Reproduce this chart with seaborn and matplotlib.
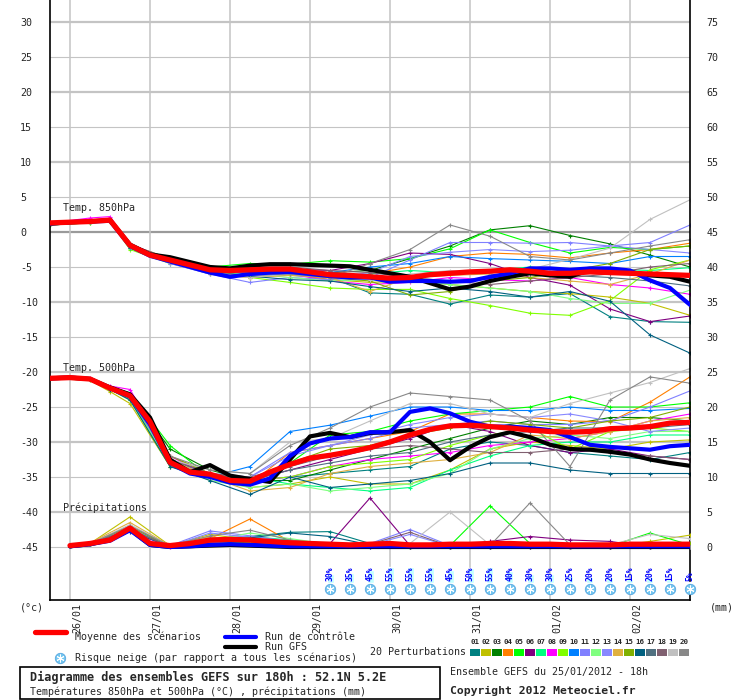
import matplotlib
matplotlib.use("Agg")
import matplotlib.pyplot as plt
from matplotlib.lines import Line2D
from matplotlib.patches import Rectangle
from matplotlib.transforms import ScaledTranslation
import pandas as pd
import seaborn as sns

sns.set_style("white")
plt.rcParams["font.family"] = ["DejaVu Sans Mono", "DejaVu Sans"]
plt.rcParams["font.size"] = 7.2

W, H = 740, 700

# ---------------------------------------------------------------- data
HOURS_6H = list(range(0, 193, 6))            # 25/01 18h -> +192h
MEMBER_HOURS = [0, 12, 18] + list(range(24, 193, 12))
PR_HOURS_6H = list(range(6, 193, 6))
PR_MEMBER_HOURS = [6] + list(range(12, 193, 12))

DAY_HOURS = [6, 30, 54, 78, 102, 126, 150, 174]
DAY_LABELS = ["26/01", "27/01", "28/01", "29/01", "30/01", "31/01", "01/02", "02/02"]

LEFT_TICKS = list(range(30, -46, -5))
RIGHT_TICKS = list(range(75, -1, -5))

MEMBER_COLORS = ["#008080", "#c0c000", "#008000", "#ff8000", "#00ff00",
                 "#800080", "#00ff80", "#ff00ff", "#80ff00", "#0080ff",
                 "#8080ff", "#80ff80", "#8888ff", "#e0b040", "#80b000",
                 "#006080", "#507080", "#806070", "#c0c0c0", "#888888"]

# 850 hPa temperature, one row per perturbation (MEMBER_HOURS)
T850_MEMBERS = [
    [1.2, 1.6, 1.7, -2.0, -4.2, -5.8, -6.0, -6.2, -6.5, -8.7, -8.9, -10.3, -9.0, -9.3, -8.8, -12.1, -12.8, -12.9],
    [1.3, 1.4, 1.6, -1.8, -3.8, -5.5, -5.5, -6.0, -6.8, -7.2, -7.0, -7.5, -8.0, -8.5, -8.8, -9.3, -10.2, -11.9],
    [1.1, 1.5, 1.6, -2.2, -4.0, -5.6, -5.2, -5.5, -5.8, -5.5, -3.8, -2.0, 0.3, 0.9, -0.5, -1.7, -3.3, -5.0],
    [1.2, 1.5, 1.7, -2.1, -4.3, -6.0, -6.5, -6.0, -6.8, -6.0, -5.0, -3.5, -3.0, -3.2, -3.7, -3.0, -2.5, -1.6],
    [1.0, 1.3, 1.5, -2.3, -3.8, -5.0, -4.5, -4.6, -4.1, -4.3, -3.8, -2.4, 0.3, -1.5, -3.0, -2.2, -2.5, -2.0],
    [1.2, 1.6, 1.8, -1.9, -4.0, -5.5, -5.0, -5.3, -5.5, -4.5, -3.0, -3.2, -4.5, -6.5, -7.6, -11.0, -12.8, -12.0],
    [1.1, 1.4, 1.6, -2.0, -4.0, -5.7, -5.8, -6.0, -6.3, -6.0, -5.5, -5.8, -5.5, -5.0, -5.5, -5.3, -5.5, -5.1],
    [1.3, 2.0, 2.2, -1.7, -4.0, -5.8, -5.8, -6.0, -7.0, -7.5, -7.2, -6.5, -6.8, -7.0, -6.5, -7.5, -8.0, -8.9],
    [1.0, 1.3, 1.5, -2.5, -4.5, -5.8, -6.5, -7.2, -8.0, -8.2, -8.2, -9.5, -10.5, -11.6, -11.9, -9.8, -5.4, -4.0],
    [1.2, 1.5, 1.7, -2.0, -4.0, -5.5, -5.8, -5.5, -5.8, -5.0, -4.5, -3.5, -3.8, -4.0, -4.2, -4.5, -3.5, -3.5],
    [1.3, 1.6, 1.8, -2.1, -4.5, -6.0, -7.2, -6.5, -6.8, -6.5, -4.0, -1.5, -1.5, -1.6, -1.5, -2.0, -1.5, 1.0],
    [1.1, 1.4, 1.6, -2.4, -4.2, -5.8, -6.0, -6.5, -7.0, -6.8, -7.0, -7.5, -8.0, -8.5, -9.5, -10.2, -10.2, -8.3],
    [1.2, 1.5, 1.7, -2.0, -4.3, -6.0, -6.2, -6.0, -6.5, -5.8, -3.5, -2.9, -2.5, -2.8, -2.6, -2.0, -2.5, -3.0],
    [1.2, 1.5, 1.6, -2.2, -4.0, -5.5, -6.5, -6.2, -6.5, -8.5, -6.5, -6.2, -6.0, -6.5, -7.0, -7.5, -6.0, -4.0],
    [1.1, 1.4, 1.6, -1.9, -4.0, -5.8, -5.5, -6.0, -6.5, -7.0, -9.0, -8.5, -7.0, -6.5, -5.5, -4.5, -2.5, -2.0],
    [1.2, 1.5, 1.7, -2.3, -4.2, -5.6, -6.3, -6.8, -7.0, -7.8, -8.5, -8.0, -8.5, -9.3, -8.5, -9.9, -14.7, -17.3],
    [1.2, 1.5, 1.7, -2.0, -4.0, -5.6, -5.5, -5.8, -6.2, -6.5, -6.8, -7.0, -6.5, -6.0, -6.2, -6.5, -7.0, -7.7],
    [1.3, 1.5, 1.8, -1.8, -3.8, -5.3, -5.0, -5.0, -5.5, -5.8, -6.5, -7.0, -7.5, -7.0, -6.5, -6.0, -5.0, -4.5],
    [1.1, 1.4, 1.6, -2.2, -4.4, -6.0, -6.5, -6.0, -6.5, -6.8, -6.0, -5.5, -5.8, -5.3, -3.9, -2.3, 1.8, 4.6],
    [1.2, 1.5, 1.7, -2.0, -4.3, -5.8, -6.2, -6.0, -6.5, -4.5, -2.5, 1.0, -0.6, -3.5, -4.0, -3.0, -2.0, -1.1],
]

# 500 hPa temperature, one row per perturbation (MEMBER_HOURS)
T500_MEMBERS = [
    [-20.8, -21.0, -22.4, -23.5, -32.5, -34.8, -35.5, -35.0, -34.5, -34.0, -33.5, -31.0, -30.0, -30.5, -31.5, -32.0, -32.5, -31.5],
    [-20.9, -21.2, -22.8, -24.5, -33.5, -35.0, -36.5, -36.0, -35.0, -36.0, -36.0, -34.0, -31.0, -30.0, -30.5, -31.0, -30.0, -29.7],
    [-20.8, -21.0, -22.2, -23.0, -31.0, -34.0, -35.5, -35.5, -34.0, -32.5, -31.0, -29.5, -28.0, -27.0, -27.5, -26.5, -26.5, -27.0],
    [-20.8, -21.0, -22.3, -23.5, -32.0, -34.5, -36.0, -31.5, -30.5, -29.5, -28.5, -26.0, -26.0, -26.5, -27.0, -27.1, -24.3, -20.7],
    [-20.8, -21.0, -22.1, -23.0, -30.5, -35.0, -35.5, -33.0, -29.0, -28.5, -27.0, -26.0, -25.5, -25.0, -23.5, -25.0, -25.0, -24.4],
    [-20.8, -21.0, -22.3, -23.5, -32.5, -34.5, -35.5, -34.0, -32.5, -31.0, -29.5, -27.5, -28.5, -30.5, -31.5, -31.0, -32.0, -32.5],
    [-20.8, -21.0, -22.4, -23.8, -33.0, -35.0, -35.0, -36.0, -36.5, -37.0, -36.5, -34.0, -32.0, -30.5, -30.0, -30.0, -29.0, -29.0],
    [-20.8, -20.9, -22.0, -22.5, -32.0, -35.0, -35.5, -35.0, -33.5, -32.5, -32.0, -31.5, -30.5, -30.0, -29.5, -28.5, -27.0, -26.0],
    [-20.8, -21.0, -22.4, -24.0, -33.5, -35.0, -35.5, -35.0, -33.5, -33.0, -32.5, -30.5, -29.0, -28.0, -31.0, -28.5, -28.0, -28.5],
    [-20.8, -21.0, -22.3, -23.5, -33.0, -35.0, -33.5, -28.5, -27.6, -26.3, -25.0, -25.0, -25.5, -25.5, -25.0, -25.5, -25.5, -25.2],
    [-20.8, -21.0, -22.3, -23.5, -33.0, -34.5, -35.0, -31.5, -30.5, -29.5, -28.0, -27.5, -27.0, -27.5, -27.5, -27.0, -25.0, -22.7],
    [-20.8, -21.1, -22.5, -24.0, -33.0, -35.5, -36.5, -36.0, -37.0, -36.5, -36.0, -34.5, -31.0, -29.5, -29.0, -29.5, -28.5, -28.5],
    [-20.8, -21.0, -22.2, -23.2, -32.5, -35.0, -35.0, -32.0, -30.5, -29.0, -27.5, -26.5, -26.0, -26.5, -26.0, -27.0, -28.5, -28.0],
    [-20.8, -21.0, -22.3, -23.5, -32.5, -35.0, -37.0, -36.5, -34.5, -33.5, -33.0, -32.5, -31.5, -29.0, -29.5, -28.5, -27.0, -26.5],
    [-20.8, -21.0, -22.3, -23.5, -32.0, -34.5, -35.5, -33.0, -31.0, -30.5, -29.0, -28.0, -27.0, -27.5, -28.0, -27.0, -26.5, -25.0],
    [-20.8, -21.0, -22.5, -24.0, -33.5, -35.5, -37.5, -35.0, -36.5, -36.0, -35.5, -34.5, -33.0, -33.0, -34.0, -34.5, -34.5, -34.5],
    [-20.8, -21.0, -22.3, -23.5, -32.5, -34.5, -35.5, -34.0, -33.0, -32.0, -31.5, -30.0, -29.0, -28.5, -28.0, -28.0, -28.0, -27.5],
    [-20.8, -21.0, -22.3, -23.5, -32.5, -34.5, -35.0, -33.5, -32.0, -31.0, -30.5, -31.0, -31.5, -31.5, -31.0, -31.5, -32.0, -32.5],
    [-20.8, -21.0, -22.3, -23.5, -32.5, -34.0, -34.5, -30.0, -29.5, -27.0, -24.5, -24.5, -26.0, -26.5, -24.5, -23.0, -21.5, -19.5],
    [-20.8, -21.0, -22.3, -23.5, -32.0, -34.0, -34.5, -30.5, -28.0, -25.0, -23.0, -23.5, -24.0, -27.0, -33.5, -24.0, -20.7, -21.6],
]

# 6h precipitation (mm), one row per perturbation (PR_MEMBER_HOURS)
PRECIP_MEMBERS = [
    [0.1, 0.4, 2.5, 0.1, 1.2, 1.5, 2.1, 2.2, 0.5, 0.1, 0.0, 0.0, 0.1, 0.0, 0.0, 0.0, 0.0],
    [0.1, 0.5, 4.3, 0.2, 1.8, 1.0, 0.5, 0.2, 0.0, 0.0, 0.1, 0.1, 0.2, 0.0, 0.0, 0.8, 1.7],
    [0.1, 0.5, 2.8, 0.1, 1.0, 1.2, 0.6, 0.2, 0.1, 0.0, 0.0, 0.5, 0.2, 0.0, 0.0, 0.1, 0.2],
    [0.1, 0.6, 3.0, 0.2, 1.2, 4.0, 0.8, 0.3, 0.1, 0.0, 0.0, 0.0, 0.4, 0.3, 0.0, 0.0, 0.1],
    [0.1, 0.4, 2.6, 0.1, 0.8, 0.6, 0.5, 0.2, 0.0, 0.0, 0.2, 5.9, 0.5, 0.2, 0.1, 2.0, 0.3],
    [0.1, 0.5, 2.5, 0.1, 0.6, 0.5, 0.3, 0.5, 7.0, 0.2, 0.0, 0.8, 1.5, 1.0, 0.8, 0.0, 0.0],
    [0.1, 0.5, 2.4, 0.1, 1.0, 1.5, 1.0, 0.5, 0.2, 0.0, 0.0, 0.0, 0.1, 0.0, 0.0, 0.0, 0.0],
    [0.1, 0.5, 2.2, 0.0, 0.5, 0.4, 0.2, 0.1, 0.0, 0.0, 0.0, 0.0, 0.0, 0.0, 0.0, 0.0, 0.0],
    [0.1, 0.5, 2.6, 0.1, 1.4, 0.8, 0.6, 0.3, 0.1, 0.1, 0.0, 0.0, 0.2, 0.0, 0.0, 0.3, 0.4],
    [0.1, 0.4, 2.3, 0.1, 1.2, 0.9, 0.3, 0.1, 0.0, 0.0, 0.0, 0.0, 0.0, 0.0, 0.0, 0.0, 0.0],
    [0.1, 0.5, 2.8, 0.2, 2.3, 1.6, 0.8, 0.3, 0.5, 2.5, 0.2, 0.0, 0.0, 0.0, 0.0, 0.0, 0.1],
    [0.1, 0.4, 2.4, 0.1, 0.9, 2.0, 1.2, 0.4, 0.1, 0.0, 0.0, 0.0, 0.0, 0.1, 0.0, 0.2, 0.1],
    [0.1, 0.5, 2.7, 0.1, 2.0, 1.4, 0.5, 0.2, 0.3, 1.8, 0.1, 0.0, 0.0, 0.0, 0.0, 0.0, 0.0],
    [0.1, 0.6, 3.5, 0.2, 1.5, 0.8, 0.5, 0.3, 0.1, 0.0, 0.0, 0.0, 0.0, 0.0, 0.0, 0.0, 0.1],
    [0.1, 0.5, 2.9, 0.1, 0.8, 0.7, 0.4, 0.2, 0.1, 0.0, 0.0, 0.2, 0.4, 0.0, 0.0, 0.5, 0.6],
    [0.1, 0.4, 2.2, 0.1, 1.0, 1.3, 2.0, 1.5, 0.3, 0.0, 0.0, 0.0, 0.0, 0.0, 0.0, 0.0, 0.0],
    [0.1, 0.5, 2.5, 0.1, 1.1, 1.0, 0.6, 0.3, 0.1, 0.0, 0.0, 0.0, 0.1, 0.0, 0.0, 0.0, 0.0],
    [0.1, 0.5, 2.4, 0.1, 0.9, 1.1, 0.6, 0.3, 0.4, 2.1, 0.1, 0.0, 0.0, 0.0, 0.0, 0.0, 0.0],
    [0.1, 0.5, 3.2, 0.2, 1.3, 1.0, 0.9, 0.4, 0.2, 0.5, 5.0, 0.3, 0.1, 0.0, 0.3, 1.8, 1.2],
    [0.1, 0.5, 3.0, 0.2, 1.6, 2.4, 1.0, 0.4, 0.2, 0.1, 0.0, 0.2, 6.3, 0.3, 0.1, 0.0, 0.0],
]

# mean / control / GFS runs on the 6h grid
T850_MEAN = [1.3, 1.4, 1.5, 1.7, -1.9, -3.3, -4.0, -4.7, -5.4, -5.5, -5.4, -5.3, -5.3, -5.7, -6.1, -6.2, -6.4,
             -6.6, -6.5, -6.1, -5.9, -5.7, -5.6, -5.4, -5.6, -5.9, -5.9, -5.7, -5.8, -5.9, -6.0, -6.1, -6.2]
T850_CTRL = [1.2, 1.4, 1.5, 1.6, -2.0, -3.4, -4.2, -5.0, -5.8, -6.4, -6.0, -5.8, -5.7, -6.0, -6.3, -6.5, -6.5,
             -7.1, -7.0, -7.0, -7.1, -7.0, -6.4, -5.9, -5.2, -5.2, -5.4, -5.2, -5.2, -5.5, -6.9, -8.0, -10.4]
T850_GFS = [1.2, 1.4, 1.5, 1.7, -1.8, -3.2, -3.6, -4.3, -5.0, -5.2, -4.8, -4.6, -4.6, -4.7, -4.8, -4.9, -5.4,
            -5.9, -6.4, -7.3, -8.2, -7.8, -7.0, -6.4, -5.9, -6.2, -6.4, -5.4, -5.7, -5.7, -6.2, -6.4, -7.1]

T500_MEAN = [-20.9, -20.8, -21.0, -22.3, -23.4, -27.1, -32.9, -34.3, -34.6, -35.5, -35.6, -34.3, -33.2, -32.3,
             -31.9, -31.4, -30.8, -30.0, -29.0, -28.2, -27.7, -27.6, -27.8, -28.0, -28.3, -28.5, -28.6, -28.5,
             -28.1, -28.0, -27.8, -27.3, -27.2]
T500_CTRL = [-20.9, -20.8, -21.0, -22.3, -23.5, -27.5, -33.0, -34.5, -35.0, -35.8, -36.1, -35.2, -32.0, -30.2,
             -29.5, -29.3, -28.6, -28.6, -25.7, -25.2, -25.9, -27.1, -27.8, -27.8, -28.0, -28.3, -29.3, -30.4,
             -30.7, -30.9, -31.1, -30.6, -30.4]
T500_GFS = [-20.9, -20.8, -21.0, -22.2, -23.2, -26.5, -32.5, -34.3, -33.3, -34.8, -35.3, -35.7, -32.5, -29.2,
            -28.7, -29.3, -28.7, -28.6, -28.3, -30.0, -32.6, -30.7, -29.3, -28.6, -29.3, -30.4, -31.0, -31.1,
            -31.4, -31.8, -32.5, -33.0, -33.4]

PRECIP_MEAN = [0.2, 0.5, 1.0, 2.7, 0.5, 0.2, 0.5, 1.0, 1.1, 1.0, 0.8, 0.6, 0.5, 0.4, 0.3, 0.4,
               0.5, 0.3, 0.3, 0.4, 0.4, 0.5, 0.5, 0.4, 0.4, 0.3, 0.3, 0.3, 0.4, 0.4, 0.4, 0.4]
PRECIP_CTRL = [0.1, 0.4, 0.9, 2.4, 0.3, 0.0, 0.1, 0.3, 0.4, 0.3, 0.2, 0.1, 0.1, 0.1, 0.1, 0.1,
               0.1, 0.1, 0.1, 0.1, 0.1, 0.1, 0.1, 0.1, 0.1, 0.1, 0.1, 0.1, 0.1, 0.1, 0.1, 0.1]
PRECIP_GFS = [0.1, 0.4, 1.0, 2.5, 0.3, 0.0, 0.1, 0.2, 0.3, 0.2, 0.1, 0.0, 0.0, 0.0, 0.0, 0.0,
              0.0, 0.0, 0.0, 0.0, 0.0, 0.0, 0.0, 0.0, 0.0, 0.0, 0.0, 0.0, 0.0, 0.0, 0.0, 0.0]

# snow risk (% of scenarios), from 29/01 18h every 6h
SNOW_HOURS = list(range(84, 193, 6))
SNOW_PCT = [30, 35, 45, 55, 55, 55, 45, 50, 55, 40, 30, 30, 25, 20, 20, 15, 20, 15, 5]

# ---------------------------------------------------------------- layout
T_TOP, T_BOTTOM = 232 / 7, -368 / 7       # axis spans 7 px per degree
MM_OFFSET = 45                            # 0 mm sits on the -45 degC line
SNOW_BASE = -50.14
SNOW_ICON_Y = -50.93
SNOW_BAR_SCALE = 16 / 55 / 7


def fx(px):
    return px / W


def fy(py):
    return 1 - py / H


def members_frame(rows, hours):
    recs = []
    for i, row in enumerate(rows):
        for h, v in zip(hours, row):
            recs.append((f"{i + 1:02d}", h, v))
    return pd.DataFrame(recs, columns=["member", "hour", "value"])


def draw_members(ax, rows, hours):
    df = members_frame(rows, hours)
    n_before = len(ax.get_lines())
    sns.lineplot(data=df, x="hour", y="value", hue="member", palette=MEMBER_COLORS,
                 legend=False, estimator=None, sort=False, ax=ax, lw=0.8,
                 marker="+", markersize=3.5, mew=0.8, zorder=2)
    # seaborn paints marker edges white by default; '+' needs the line colour
    for line in ax.get_lines()[n_before:]:
        line.set_markeredgecolor(line.get_color())


def draw_runs(ax, hours, mean, ctrl, gfs):
    sns.lineplot(x=hours, y=gfs, color="black", lw=3.0, ax=ax, zorder=3)
    sns.lineplot(x=hours, y=ctrl, color="#0000ff", lw=3.0, ax=ax, zorder=4)
    sns.lineplot(x=hours, y=mean, color="#ff0000", lw=3.8, ax=ax, zorder=5)


def snow_icon(ax, x, y, size=7.5):
    ax.plot([x], [y], marker="o", ms=size, color="#74c6f0", mec="#5aa8e0",
            mew=0.6, ls="none", zorder=6, clip_on=False)
    ax.plot([x], [y], marker=(6, 2, 0), ms=size * 0.75, color="white",
            mew=0.7, ls="none", zorder=7, clip_on=False)


fig = plt.figure(figsize=(W / 100, H / 100), dpi=100)
ax = fig.add_axes([fx(50), 100 / H, 640 / W, 600 / H])
ax2 = ax.twinx()

# grid
for v in LEFT_TICKS:
    major = v % 10 == 0
    ax.axhline(v, color="#9a9a9a" if v == 0 else "#c4c4c4",
               lw=1.6 if major else 0.8, zorder=0.5)
for h in DAY_HOURS:
    ax.axvline(h, color="#c4c4c4", lw=1.1, zorder=0.5)

# temperatures
draw_members(ax, T850_MEMBERS, MEMBER_HOURS)
draw_members(ax, T500_MEMBERS, MEMBER_HOURS)
draw_runs(ax, HOURS_6H, T850_MEAN, T850_CTRL, T850_GFS)
draw_runs(ax, HOURS_6H, T500_MEAN, T500_CTRL, T500_GFS)

# precipitation on the mm axis
draw_members(ax2, PRECIP_MEMBERS, PR_MEMBER_HOURS)
draw_runs(ax2, PR_HOURS_6H, PRECIP_MEAN, PRECIP_CTRL, PRECIP_GFS)

# snow risk
ax.bar(SNOW_HOURS, [p * SNOW_BAR_SCALE for p in SNOW_PCT], bottom=SNOW_BASE,
       width=2.1, color="#c4ffff", zorder=3, clip_on=False)
for h, p in zip(SNOW_HOURS, SNOW_PCT):
    ax.text(h, SNOW_BASE + 0.25, f"{p}%", rotation=90, ha="center", va="bottom",
            fontsize=5.8, color="#0000ff", fontweight="bold", zorder=4, clip_on=False)
    snow_icon(ax, h, SNOW_ICON_Y)

# section labels
ax.text(4, 3.4, "Temp. 850hPa", ha="left", va="center", fontsize=7.2, zorder=6)
ax.text(4, -19.4, "Temp. 500hPa", ha="left", va="center", fontsize=7.2, zorder=6)
ax.text(4, -39.4, "Précipitations", ha="left", va="center", fontsize=7.2, zorder=6)

# axes cosmetics
ax.set_xlim(0, 192)
ax.set_ylim(T_BOTTOM, T_TOP)
ax2.set_ylim(T_BOTTOM + MM_OFFSET, T_TOP + MM_OFFSET)
ax.set_xlabel("")
ax.set_ylabel("")
ax2.set_ylabel("")

ax.set_yticks(LEFT_TICKS)
ax.set_yticklabels([str(v) for v in LEFT_TICKS], ha="left")
ax.tick_params(axis="y", length=0, pad=21.6, labelsize=7.2)
ax2.set_yticks(RIGHT_TICKS)
ax2.set_yticklabels([str(v) for v in RIGHT_TICKS])
ax2.tick_params(axis="y", length=0, pad=12, labelsize=7.2)

ax.set_xticks(DAY_HOURS)
ax.set_xticklabels(DAY_LABELS, rotation=90, ha="left", va="top")
ax.tick_params(axis="x", length=0, pad=2, labelsize=7.2)
shift = ScaledTranslation(2.5 / 100, 0, fig.dpi_scale_trans)
for lab in ax.get_xticklabels():
    lab.set_transform(lab.get_transform() + shift)

for name, sp in ax.spines.items():
    sp.set_visible(name != "top")
    sp.set_color("black")
    sp.set_linewidth(1.2)
for sp in ax2.spines.values():
    sp.set_visible(False)

fig.text(fx(20), fy(607), "(°c)", va="center", fontsize=7.2)
fig.text(fx(710), fy(607), "(mm)", va="center", fontsize=7.2)

# ---------------------------------------------------------------- legend block
fig.add_artist(Line2D([fx(35), fx(66)], [fy(632), fy(632)], color="#ff0000", lw=3.8))
fig.text(fx(75), fy(637), "Moyenne des scénarios", va="center", fontsize=7.2)
fig.add_artist(Line2D([fx(225), fx(256)], [fy(637), fy(637)], color="#0000ff", lw=3.0))
fig.text(fx(265), fy(637), "Run de contrôle", va="center", fontsize=7.2)
fig.add_artist(Line2D([fx(225), fx(256)], [fy(647), fy(647)], color="black", lw=3.0))
fig.text(fx(265), fy(647), "Run GFS", va="center", fontsize=7.2)

fig.add_artist(Line2D([fx(60)], [fy(658)], marker="o", ms=7.5, color="#74c6f0",
                      mec="#5aa8e0", mew=0.6, ls="none"))
fig.add_artist(Line2D([fx(60)], [fy(658)], marker=(6, 2, 0), ms=5.6, color="white",
                      mew=0.7, ls="none"))
fig.text(fx(75), fy(658), "Risque neige (par rapport a tous les scénarios)",
         va="center", fontsize=7.2)

fig.text(fx(370), fy(652), "20 Perturbations", va="center", fontsize=7.2)
for i, c in enumerate(MEMBER_COLORS):
    x0 = 470 + i * 11
    fig.add_artist(Rectangle((fx(x0), fy(656)), 10 / W, 7 / H, color=c, lw=0))
    fig.text(fx(x0 + 5), fy(642), f"{i + 1:02d}", ha="center", va="center",
             fontsize=5.3, fontweight="bold")

fig.add_artist(Rectangle((fx(20), fy(699)), 420 / W, 32 / H, fill=False,
                         edgecolor="black", lw=1.2))
fig.text(fx(30), fy(677), "Diagramme des ensembles GEFS sur 180h : 52.1N 5.2E",
         va="center", fontsize=8.6, fontweight="bold")
fig.text(fx(30), fy(692), "Températures 850hPa et 500hPa (°C) , précipitations (mm)",
         va="center", fontsize=7.2)
fig.text(fx(450), fy(672), "Ensemble GEFS du 25/01/2012 - 18h", va="center", fontsize=7.2)
fig.text(fx(450), fy(691), "Copyright 2012 Meteociel.fr", va="center", fontsize=8.2,
         fontweight="bold")

fig.savefig("out.png", dpi=100)
